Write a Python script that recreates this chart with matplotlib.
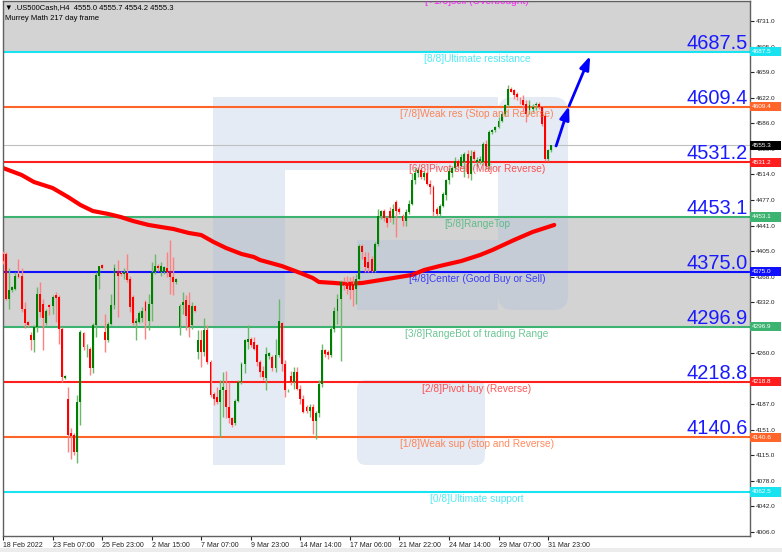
import numpy as np
import matplotlib.pyplot as plt
from matplotlib.patches import Rectangle, FancyBboxPatch
from matplotlib.transforms import blended_transform_factory

plt.rcParams['font.family'] = ['Liberation Sans', 'DejaVu Sans']

# H4 candles of .US500Cash, first bar on 18 Feb 2022
opens = [4401, 4401, 4337, 4349, 4351, 4372, 4370, 4323, 4304, 4285,
         4278, 4297, 4344, 4330, 4302, 4328, 4327, 4342, 4339, 4294,
         4225, 4195, 4147, 4143, 4119, 4190, 4289, 4265, 4266, 4238,
         4299, 4370, 4385, 4290, 4278, 4301, 4328, 4377, 4374, 4372,
         4373, 4365, 4339, 4302, 4304, 4309, 4332, 4306, 4330, 4375,
         4384, 4375, 4375, 4380, 4377, 4368, 4361, 4297, 4328, 4335,
         4328, 4299, 4326, 4261, 4278, 4262, 4292, 4247, 4202, 4197,
         4190, 4207, 4207, 4183, 4167, 4160, 4192, 4219, 4245, 4276,
         4280, 4276, 4271, 4247, 4235, 4224, 4255, 4254, 4238, 4257,
         4302, 4245, 4207, 4227, 4219, 4233, 4209, 4195, 4183, 4178,
         4183, 4164, 4174, 4216, 4264, 4262, 4257, 4294, 4320, 4337,
         4361, 4360, 4361, 4358, 4351, 4365, 4412, 4396, 4389, 4394,
         4377, 4415, 4455, 4461, 4451, 4462, 4451, 4474, 4465, 4455,
         4448, 4460, 4472, 4505, 4515, 4520, 4510, 4515, 4500, 4496,
         4465, 4458, 4469, 4484, 4505, 4515, 4522, 4533, 4526, 4531,
         4543, 4514, 4545, 4531, 4533, 4531, 4557, 4526, 4574, 4576,
         4581, 4590, 4600, 4612, 4635, 4633, 4628, 4621, 4619, 4614,
         4605, 4607, 4612, 4614, 4609, 4597, 4536, 4548, 4555.0]
highs = [4405, 4403, 4380, 4355, 4375, 4394, 4380, 4332, 4306, 4290,
         4299, 4354, 4361, 4337, 4323, 4330, 4342, 4347, 4342, 4297,
         4228, 4212, 4153, 4147, 4200, 4292, 4290, 4273, 4268, 4302,
         4375, 4384, 4387, 4316, 4304, 4344, 4387, 4392, 4377, 4380,
         4401, 4370, 4342, 4309, 4320, 4325, 4335, 4344, 4389, 4401,
         4387, 4389, 4384, 4403, 4420, 4396, 4367, 4330, 4347, 4342,
         4347, 4332, 4328, 4292, 4292, 4309, 4300, 4250, 4205, 4212,
         4221, 4233, 4235, 4219, 4169, 4195, 4221, 4247, 4280, 4299,
         4283, 4283, 4273, 4250, 4242, 4268, 4262, 4257, 4280, 4337,
         4304, 4250, 4209, 4235, 4240, 4240, 4214, 4200, 4186, 4188,
         4188, 4178, 4221, 4273, 4266, 4264, 4297, 4325, 4344, 4363,
         4368, 4370, 4368, 4370, 4372, 4415, 4415, 4403, 4403, 4398,
         4417, 4465, 4463, 4465, 4453, 4467, 4472, 4477, 4467, 4458,
         4465, 4477, 4515, 4522, 4524, 4522, 4519, 4517, 4505, 4498,
         4467, 4472, 4488, 4507, 4522, 4526, 4538, 4536, 4543, 4545,
         4548, 4548, 4548, 4538, 4540, 4560, 4562, 4576, 4578, 4583,
         4595, 4602, 4614, 4640, 4638, 4635, 4631, 4624, 4626, 4619,
         4619, 4614, 4616, 4616, 4611, 4599, 4550, 4556, 4555.7]
lows = [4387, 4335, 4323, 4346, 4349, 4366, 4318, 4295, 4297, 4264,
        4261, 4290, 4311, 4264, 4299, 4314, 4316, 4304, 4273, 4219,
        4223, 4119, 4110, 4115, 4103, 4157, 4264, 4254, 4228, 4231,
        4283, 4351, 4379, 4261, 4275, 4299, 4323, 4311, 4370, 4365,
        4361, 4318, 4299, 4278, 4302, 4304, 4280, 4292, 4306, 4372,
        4377, 4370, 4372, 4368, 4344, 4342, 4358, 4285, 4316, 4292,
        4283, 4294, 4318, 4252, 4240, 4255, 4244, 4197, 4186, 4188,
        4141, 4169, 4167, 4160, 4155, 4157, 4190, 4216, 4231, 4266,
        4268, 4264, 4242, 4226, 4221, 4207, 4252, 4235, 4233, 4254,
        4235, 4197, 4204, 4214, 4209, 4207, 4188, 4174, 4174, 4169,
        4145, 4138, 4169, 4211, 4254, 4252, 4254, 4290, 4301, 4249,
        4349, 4344, 4337, 4327, 4330, 4363, 4394, 4375, 4375, 4375,
        4375, 4412, 4450, 4448, 4439, 4446, 4443, 4425, 4458, 4441,
        4441, 4458, 4470, 4500, 4510, 4507, 4505, 4498, 4486, 4455,
        4455, 4455, 4467, 4477, 4500, 4510, 4519, 4522, 4524, 4510,
        4508, 4505, 4533, 4526, 4528, 4528, 4521, 4521, 4571, 4574,
        4579, 4588, 4597, 4609, 4630, 4621, 4619, 4614, 4604, 4588,
        4600, 4602, 4605, 4607, 4583, 4533, 4533, 4545, 4554.2]
closes = [4390, 4337, 4349, 4354, 4370, 4368, 4323, 4302, 4300, 4278,
          4297, 4344, 4318, 4309, 4320, 4325, 4339, 4338, 4294, 4226,
          4227, 4143, 4142, 4119, 4190, 4290, 4268, 4266, 4238, 4299,
          4371, 4383, 4381, 4278, 4301, 4328, 4380, 4370, 4372, 4375,
          4363, 4325, 4302, 4306, 4317, 4320, 4320, 4330, 4375, 4384,
          4380, 4384, 4382, 4375, 4368, 4361, 4365, 4327, 4332, 4313,
          4297, 4326, 4320, 4278, 4262, 4292, 4247, 4200, 4195, 4190,
          4207, 4212, 4183, 4167, 4157, 4192, 4219, 4245, 4278, 4280,
          4271, 4266, 4247, 4233, 4226, 4259, 4260, 4238, 4257, 4306,
          4245, 4207, 4208, 4219, 4233, 4209, 4195, 4176, 4178, 4183,
          4164, 4174, 4216, 4264, 4259, 4257, 4294, 4320, 4337, 4361,
          4356, 4351, 4349, 4349, 4365, 4412, 4403, 4382, 4380, 4377,
          4415, 4455, 4462, 4451, 4444, 4451, 4465, 4462, 4460, 4448,
          4460, 4472, 4505, 4515, 4520, 4510, 4515, 4500, 4496, 4460,
          4458, 4469, 4486, 4505, 4519, 4522, 4533, 4526, 4538, 4543,
          4514, 4540, 4536, 4534, 4536, 4557, 4526, 4574, 4576, 4581,
          4590, 4600, 4612, 4635, 4631, 4626, 4624, 4620, 4612, 4600,
          4612, 4610, 4614, 4609, 4585, 4536, 4548, 4555, 4555.3]

# moving average, sampled along the bars
ma_bars = [0, 6, 10, 16, 21, 25, 29, 34, 38, 42, 47, 51, 55, 60, 64, 68, 72,
           77, 81, 83, 90, 96, 100, 102, 107, 111, 116, 122, 128, 132, 136,
           141, 148, 154, 158, 165, 171, 178]
ma_vals = [4522.7, 4512.8, 4502.8, 4494.3, 4481.5, 4470.2, 4461.6, 4457.4,
           4453.1, 4447.4, 4441.8, 4438.9, 4436.1, 4430.4, 4427.5, 4417.6,
           4409.1, 4400.6, 4396.3, 4392.0, 4383.5, 4373.6, 4366.5, 4360.8,
           4359.4, 4358.0, 4359.4, 4363.6, 4367.9, 4370.7, 4377.8, 4383.5,
           4390.6, 4399.1, 4406.2, 4420.4, 4431.8, 4441.8]

# Murrey Math levels
levels = [4765.6, 4687.5, 4609.4, 4531.2, 4453.1, 4375.0, 4296.9, 4218.8,
          4140.6, 4062.5]
level_names = ['[+1/8]sell (Overbought)', '[8/8]Ultimate resistance',
               '[7/8]Weak res (Stop and Reverse)', '[6/8]Pivot sell (Major Reverse)',
               '[5/8]RangeTop', '[4/8]Center (Good Buy or Sell)',
               '[3/8]RangeBot of trading Range', '[2/8]Pivot buy (Reverse)',
               '[1/8]Weak sup (stop and Reverse)', '[0/8]Ultimate support']
level_colors = ['#ff00ff', '#19e3f0', '#ff6428', '#ff1e1e', '#3cb371',
                '#1010ff', '#3cb371', '#ff1e1e', '#ff6428', '#19e3f0']

last_price = 4555.3
arrow_x = [178.6, 182.8, 189.6]
arrow_y = [4554, 4611, 4682]

date_ticks = [0, 16, 32, 48, 64, 80, 96, 112, 128, 144, 160, 176]
date_labels = ['18 Feb 2022', '23 Feb 07:00', '25 Feb 23:00', '2 Mar 15:00',
               '7 Mar 07:00', '9 Mar 23:00', '14 Mar 14:00', '17 Mar 06:00',
               '21 Mar 22:00', '24 Mar 14:00', '29 Mar 07:00', '31 Mar 23:00']
price_ticks = [4006.0, 4042.0, 4078.0, 4115.0, 4151.0, 4187.0, 4223.0,
               4260.0, 4296.0, 4332.0, 4368.0, 4405.0, 4441.0, 4477.0,
               4514.0, 4550.0, 4586.0, 4622.0, 4659.0, 4695.0, 4731.0]
# scale labels that sit under a level box
hidden_ticks = [4223.0, 4296.0]

y_lo, y_hi = 4000.0, 4759.9

fig = plt.figure(figsize=(7.82, 5.52), dpi=100)
ax = fig.add_axes([3 / 782, 16 / 552, 747 / 782, 535 / 552])
ax.set_xlim(0.1, 241.2)
ax.set_ylim(y_lo, y_hi)

# grey zones above 8/8 and between 3/8 and 5/8
ax.axhspan(levels[1], y_hi, color='#d3d3d3', lw=0, zorder=0)
ax.axhspan(levels[6], levels[4], color='#d3d3d3', lw=0, zorder=0)

# faint logo in the background
wm = dict(transform=ax.transAxes, color='#a9bedb', alpha=0.3, lw=0, zorder=0.5)
ax.add_patch(Rectangle((0.2811, 0.1327), 0.0964, 0.6879, **wm))
ax.add_patch(Rectangle((0.3775, 0.6841), 0.2852, 0.1365, **wm))
ax.add_patch(FancyBboxPatch((0.6627, 0.4224), 0.0937, 0.3982,
                            boxstyle='round,pad=0,rounding_size=0.02', mutation_aspect=1.4, **wm))
ax.add_patch(Rectangle((0.4739, 0.4224), 0.1888, 0.1309, **wm))
ax.add_patch(FancyBboxPatch((0.4739, 0.1327), 0.1713, 0.1589,
                            boxstyle='round,pad=0,rounding_size=0.012', mutation_aspect=1.4, **wm))

ax.axhline(last_price, color='#c0c0c0', lw=0.8, zorder=1)

blend = blended_transform_factory(ax.transAxes, ax.transData)
for k, (lvl, name, col) in enumerate(zip(levels, level_names, level_colors)):
    ax.axhline(lvl, color=col, lw=1.5, zorder=1.5)
    if k == 0:
        ax.text(153, y_hi, name, ha='center', va='center', fontsize=7.3,
                color=col, alpha=0.8, zorder=6, clip_on=True)
    else:
        ax.annotate(name, (153, lvl), xytext=(0, -1.5), textcoords='offset points',
                    ha='center', va='top', fontsize=7.3, color=col, alpha=0.75, zorder=6)
    if 1 <= k <= 8:
        ax.annotate(f'{lvl:.1f}', (0.997, lvl), xycoords=blend, xytext=(0, 2.2),
                    textcoords='offset points', ha='right', va='baseline',
                    fontsize=14.4, color='#1a1aff', zorder=6)

# moving average
ax.plot(ma_bars, ma_vals, color='#ff0000', lw=3, solid_capstyle='round', zorder=2)

# candles
x = np.arange(len(opens))
o, h, l, c = (np.array(v, dtype=float) for v in (opens, highs, lows, closes))
up = c >= o
ax.vlines(x, l, h, colors=np.where(up, '#6ab86a', '#ff8080'), lw=1, zorder=3)
ax.bar(x, np.maximum(np.abs(c - o), 1.0), bottom=np.minimum(o, c), width=0.62,
       color=np.where(up, '#008000', '#ff0000'), lw=0, zorder=4)

# projected move
for k in range(2):
    ax.annotate('', xy=(arrow_x[k + 1], arrow_y[k + 1]), xytext=(arrow_x[k], arrow_y[k]),
                arrowprops=dict(arrowstyle='-|>,head_length=0.8,head_width=0.28',
                                color='#0000ff', lw=2, shrinkA=0, shrinkB=0), zorder=5)

# price boxes on the right scale
box_vals = levels[1:] + [last_price]
box_cols = level_colors[1:] + ['#000000']
for val, col in zip(box_vals, box_cols):
    ax.add_patch(Rectangle((1.0, val - 6.4), 31 / 747, 12.8, transform=blend,
                           color=col, lw=0, clip_on=False, zorder=7))
    ax.text(1.0 + 2 / 747, val, f'{val:.1f}', transform=blend, ha='left', va='center',
            fontsize=4.6, color='white', family=['Liberation Sans Narrow', 'Liberation Sans'],
            clip_on=False, zorder=8)

ax.yaxis.tick_right()
ax.set_yticks(price_ticks)
ax.set_yticklabels(['' if v in hidden_ticks else f'{v:.1f}' for v in price_ticks])
ax.tick_params(axis='y', length=3, width=0.8, pad=1, labelsize=4.6, colors='#222222')
for lbl in ax.get_yticklabels():
    lbl.set_family(['Liberation Sans Narrow', 'Liberation Sans'])

ax.set_xticks(date_ticks)
ax.set_xticklabels(date_labels, ha='left', fontsize=5)
ax.tick_params(axis='x', length=3, width=0.8, pad=1.5, colors='#222222')

for side in ('left', 'right', 'top', 'bottom'):
    ax.spines[side].set_color('#606060')
    ax.spines[side].set_linewidth(1)

fig.text(5 / 782, 1 - 8 / 552, '▼ .US500Cash,H4  4555.0 4555.7 4554.2 4555.3',
         fontsize=5.5, va='center', family=['Liberation Sans', 'DejaVu Sans'])
fig.text(5 / 782, 1 - 19 / 552, 'Murrey Math 217 day frame', fontsize=5.5, va='center')

fig.patches.append(Rectangle((0, 0), 1, 4 / 552, transform=fig.transFigure,
                             color='#ececec', lw=0))

fig.savefig('out.png', dpi=100)
